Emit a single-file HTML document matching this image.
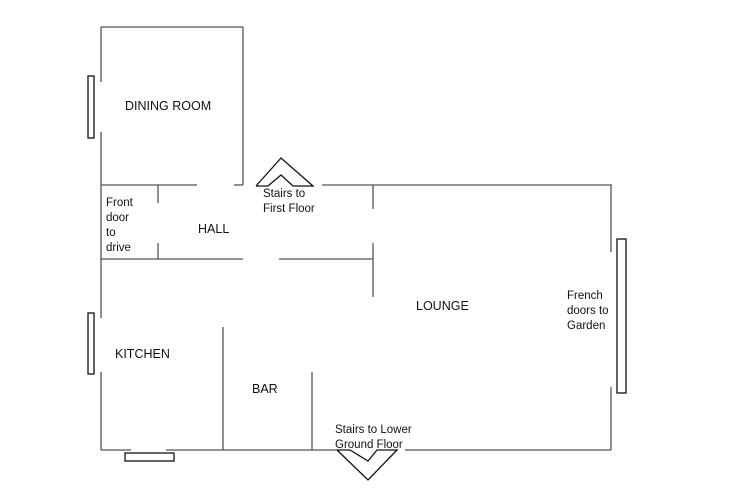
<!DOCTYPE html>
<html><head><style>
html,body{margin:0;padding:0;background:#fff;}
svg{display:block;}
text{font-family:"Liberation Sans",sans-serif;fill:#111;}
.b{font-size:12.5px;}
.s{font-size:11.5px;}
</style></head><body>
<svg width="740" height="494" viewBox="0 0 740 494" xmlns="http://www.w3.org/2000/svg">
<g stroke="#555" stroke-width="1.3" fill="none">
<line x1="101" y1="27" x2="243" y2="27"/>
<line x1="243" y1="27" x2="243" y2="185"/>
<line x1="101" y1="27" x2="101" y2="82"/>
<line x1="101" y1="132" x2="101" y2="318"/>
<line x1="101" y1="372" x2="101" y2="450"/>
<line x1="101" y1="185" x2="197" y2="185"/>
<line x1="234" y1="185" x2="243" y2="185"/>
<line x1="322" y1="185" x2="612" y2="185"/>
<line x1="158" y1="185" x2="158" y2="203"/>
<line x1="158" y1="243" x2="158" y2="259"/>
<line x1="101" y1="259" x2="243" y2="259"/>
<line x1="279" y1="259" x2="373" y2="259"/>
<line x1="373" y1="185" x2="373" y2="209"/>
<line x1="373" y1="243" x2="373" y2="297"/>
<line x1="611" y1="185" x2="611" y2="252"/>
<line x1="611" y1="387" x2="611" y2="450"/>
<line x1="101" y1="450" x2="131" y2="450"/>
<line x1="166" y1="450" x2="337" y2="450"/>
<line x1="405" y1="450" x2="611" y2="450"/>
<line x1="223" y1="327" x2="223" y2="450"/>
<line x1="312" y1="372" x2="312" y2="450"/>
</g>
<g stroke="#111" stroke-width="1.3" fill="none">
<rect x="88" y="76" width="6" height="62"/>
<rect x="88" y="313" width="6" height="61"/>
<rect x="617" y="239" width="9" height="154"/>
<rect x="125" y="453" width="49" height="8"/>
<polyline points="256,186 281,158 313,186 293,186 281,175 268,186 256,186"/>
<polyline points="337,450 368,480 397,450 377,450 368,461 350,450 337,450"/>
</g>
<text class="b" x="125" y="110">DINING ROOM</text>
<text class="b" x="198" y="233">HALL</text>
<text class="b" x="115" y="358">KITCHEN</text>
<text class="b" x="252" y="393">BAR</text>
<text class="b" x="416" y="310">LOUNGE</text>
<text class="s" x="106" y="206">Front</text>
<text class="s" x="106" y="221">door</text>
<text class="s" x="106" y="236">to</text>
<text class="s" x="106" y="251">drive</text>
<text class="s" x="263" y="197">Stairs to</text>
<text class="s" x="263" y="212">First Floor</text>
<text class="s" x="335" y="433">Stairs to Lower</text>
<text class="s" x="335" y="448">Ground Floor</text>
<text class="s" x="567" y="299">French</text>
<text class="s" x="567" y="314">doors to</text>
<text class="s" x="567" y="329">Garden</text>
</svg>
</body></html>
